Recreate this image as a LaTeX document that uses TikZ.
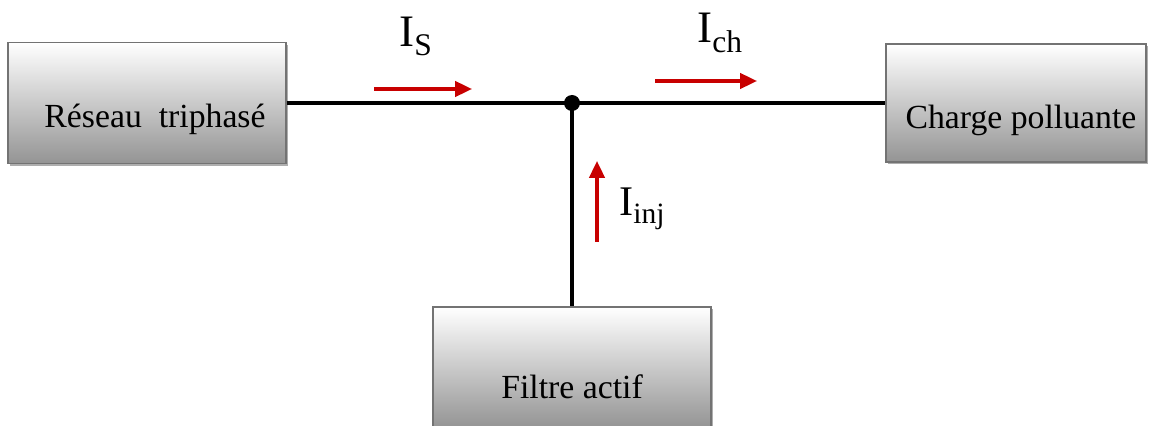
\documentclass[tikz,border=0pt]{standalone}
\usepackage{fontspec}
\setmainfont{Liberation Serif}
\usetikzlibrary{arrows.meta, shadows, positioning}

\tikzset{
  bloc/.style={rectangle, draw=black!55, line width=1.1pt, top color=white, bottom color=black!42,
    inner sep=0pt, font=\fontsize{24}{28}\selectfont,
    drop shadow={shadow xshift=1.6pt, shadow yshift=-1.6pt, fill=black!45, opacity=0.7}},
  ligne/.style={black, line width=2.6pt},
  courant/.style={draw={rgb,255:red,200;green,0;blue,0}, line width=2.3pt,
    -{Triangle[length=0.42cm, width=0.38cm]}},
  etiq/.style={anchor=base west, inner sep=0pt, font=\fontsize{32}{36}\selectfont}
}

\begin{document}
\begin{tikzpicture}[x=0.025cm, y=-0.025cm]
  \useasboundingbox (0,0) rectangle (1160,426);

  % Blocks
  \node[bloc, minimum width=6.95cm, text height=2.125cm, text depth=0.9cm] (reseau) at (147,103) {\hspace{0.4cm}Réseau\ \ triphasé};
  \node[bloc, minimum width=6.5cm, text height=2.1cm, text depth=0.85cm] (charge) at (1016,103) {\hspace{0.25cm}Charge polluante};
  \node[bloc, minimum width=6.95cm, text height=2.275cm, text depth=0.75cm] (filtre) at (572,367.5) {Filtre actif};

  % Junction
  \coordinate (jn) at (572,103);

  % Lines (black)
  \draw[ligne] (reseau.east) -- (jn);
  \draw[ligne] (jn) -- (charge.west);
  \draw[ligne] (jn) -- (filtre.north);
  \fill (jn) circle (8);

  % Currents (red)
  \coordinate (is1) at (374,89);
  \coordinate (is2) at (472,89);
  \coordinate (ich1) at (655,81);
  \coordinate (ich2) at (757,81);
  \coordinate (iinj1) at (597,242);
  \coordinate (iinj2) at (597,161);
  \draw[courant] (is1) -- (is2);
  \draw[courant] (ich1) -- (ich2);
  \draw[courant] (iinj1) -- (iinj2);

  % Labels
  \node[etiq] (lblS) at (399,47) {I\textsubscript{S}};
  \node[etiq] (lblch) at (697,43) {I\textsubscript{ch}};
  \node[etiq, font=\fontsize{30}{34}\selectfont] (lblinj) at (619,216) {I\textsubscript{inj}};
\end{tikzpicture}
\end{document}
